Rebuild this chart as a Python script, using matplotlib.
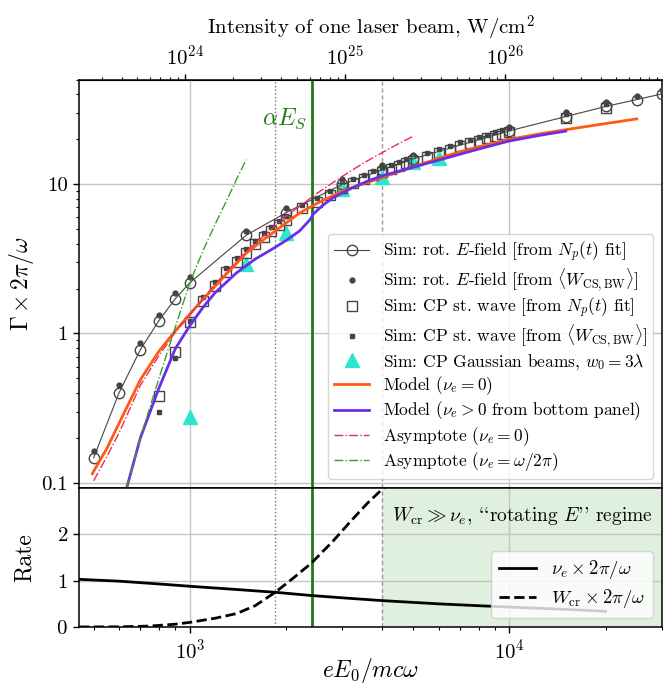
import numpy as np
import matplotlib
matplotlib.use("Agg")
import matplotlib.pyplot as plt
from matplotlib.ticker import NullFormatter

plt.rcParams['font.family'] = ['cmr10', 'DejaVu Serif']
plt.rcParams['mathtext.fontset'] = 'cm'
plt.rcParams['axes.formatter.use_mathtext'] = True

# --- data ---
# rotating E-field simulations
rot_a = [500, 600, 700, 800, 900, 1000, 1500, 2000, 3000, 4000, 5000,
         10000, 15000, 20000, 25000, 30000]
rot_fit = [0.147, 0.40, 0.78, 1.22, 1.71, 2.19, 4.55, 6.45, 10.0, 12.5, 14.8,
           22.8, 28.4, 33.2, 36.9, 40.3]
rot_w = [0.163, 0.45, 0.87, 1.34, 1.87, 2.38, 4.87, 6.95, 10.8, 13.4, 15.8,
         24.3, 30.3, 35.4, 39.3, 43.0]

# CP standing wave simulations
cp_a = [800, 900, 1000, 1100, 1200, 1300, 1400, 1500, 1600, 1700, 1800, 1900, 2000,
        2250, 2500, 2750, 3000, 3250, 3500, 3750, 4000, 4250, 4500, 4750, 5000,
        5500, 6000, 6500, 7000, 7500, 8000, 8500, 9000, 9500, 10000, 15000, 20000]
cp_fit = [0.38, 0.75, 1.20, 1.66, 2.09, 2.58, 3.02, 3.48, 3.95, 4.42, 4.88, 5.35, 5.80,
          6.9, 7.6, 8.5, 9.5, 10.2, 10.8, 11.5, 12.1, 12.7, 13.3, 13.9, 14.4,
          15.3, 16.1, 17.0, 18.0, 18.8, 19.5, 20.3, 21.0, 21.7, 22.3, 27.8, 32.6]
cp_w = [0.30, 0.69, 1.21, 1.76, 2.22, 2.74, 3.20, 3.69, 4.19, 4.69, 5.17, 5.67, 6.15,
        7.3, 8.05, 9.0, 10.1, 10.8, 11.45, 12.2, 12.8, 13.45, 14.1, 14.7, 15.3,
        16.2, 17.1, 18.0, 19.1, 19.9, 20.7, 21.5, 22.3, 23.0, 23.7, 29.6, 34.7]

# CP Gaussian beams
gauss_a = [1000, 1500, 2000, 3000, 4000, 5000, 6000]
gauss_g = [0.274, 2.93, 4.73, 9.3, 11.1, 14.1, 15.0]

# models
model0_a = [495, 550, 600, 700, 800, 900, 1000, 1100, 1200, 1300, 1500, 1700, 2000,
            2200, 2500, 3000, 3500, 4000, 5000, 6000, 7000, 8000, 10000, 12500,
            15000, 20000, 25000]
model0_g = [0.115, 0.17, 0.25, 0.49, 0.76, 1.04, 1.35, 1.70, 2.07, 2.5, 3.45, 4.25, 5.5,
            6.4, 7.45, 9.0, 10.1, 11.1, 13.1, 14.9, 16.5, 17.8, 20.0, 21.8,
            23.2, 25.5, 27.4]
model1_a = [634, 700, 800, 900, 1000, 1100, 1200, 1400, 1600, 1800, 2000, 2200, 2370,
            2440, 2600, 2800, 3200, 3600, 4000, 5000, 6000, 8000, 10000, 12500, 15000]
model1_g = [0.092, 0.20, 0.43, 0.79, 1.13, 1.5, 1.88, 2.55, 3.15, 3.65, 4.2, 4.85, 5.75,
            6.35, 7.2, 8.1, 9.4, 10.5, 11.4, 13.0, 14.5, 17.2, 19.5, 21.3, 22.7]

# asymptotes
asym0_a = [500, 550, 600, 700, 800, 900, 1000, 1200, 1500, 2000, 2500, 3000, 3500,
           4000, 4500, 5000]
asym0_g = [0.103, 0.15, 0.215, 0.45, 0.71, 1.02, 1.33, 2.15, 3.55, 6.1, 8.7, 11.3, 13.9,
           16.3, 18.7, 21.0]
asym1_a = [634, 700, 800, 900, 1000, 1100, 1200, 1300, 1400, 1500]
asym1_g = [0.092, 0.2, 0.5, 1.1, 2.2, 3.6, 5.4, 7.7, 10.8, 14.6]

# bottom panel rates
nu_a = [450, 600, 800, 1000, 1400, 1850, 2400, 3000, 4000, 6000, 8000, 10000, 15000, 20000]
nu_rate = [1.03, 0.99, 0.93, 0.88, 0.81, 0.75, 0.68, 0.63, 0.57, 0.50, 0.46, 0.43, 0.38, 0.34]
wcr_a = [450, 600, 750, 900, 1000, 1200, 1400, 1600, 1850, 2100, 2400, 2800, 3200, 3600, 4100]
wcr_rate = [0.0, 0.004, 0.02, 0.06, 0.1, 0.19, 0.29, 0.46, 0.75, 1.05, 1.38, 1.85, 2.3, 2.68, 3.05]

a_cross = 1845     # nu_e = W_cr
a_alphaES = 2406   # alpha * E_S
a_rot = 4000       # start of rotating-E regime

GREEN = '#1e7a14'
GREY = '#444444'


def a_to_I(a):
    return 1.07e18 * np.asarray(a, dtype=float) ** 2


def I_to_a(I):
    return np.sqrt(np.asarray(I, dtype=float) / 1.07e18)


fig, (ax, axb) = plt.subplots(2, 1, sharex=True, figsize=(6.7, 6.83), dpi=100,
                              gridspec_kw=dict(height_ratios=[2.94, 1], hspace=0))
fig.subplots_adjust(left=0.118, right=0.988, top=0.883, bottom=0.082)

# --- top panel ---
ax.plot(rot_a, rot_w, 'o', color=GREY, ms=3.5, ls='none', zorder=3)
ax.plot(rot_a, rot_fit, '-o', color=GREY, lw=0.8, mfc='none', mec=GREY, ms=7.5, mew=1.0,
        zorder=4, label=r'Sim: rot. $E$-field [from $N_p(t)$ fit]')
ax.plot([], [], 'o', color=GREY, ms=3.5, ls='none',
        label=r'Sim: rot. $E$-field [from $\langle W_{\rm CS,BW}\rangle$]')
ax.plot(cp_a, cp_fit, 's', mfc='none', mec=GREY, ms=6.5, mew=1.0, ls='none', zorder=4,
        label=r'Sim: CP st. wave [from $N_p(t)$ fit]')
ax.plot(cp_a, cp_w, 's', color=GREY, ms=3.5, ls='none', zorder=3,
        label=r'Sim: CP st. wave [from $\langle W_{\rm CS,BW}\rangle$]')
ax.plot(gauss_a, gauss_g, '^', color='#2ee6c9', ms=10, ls='none', zorder=3,
        label=r'Sim: CP Gaussian beams, $w_0=3\lambda$')
ax.plot(model0_a, model0_g, color='#ff5a14', lw=2, zorder=5, label=r'Model ($\nu_e=0$)')
ax.plot(model1_a, model1_g, color='#6a2ee8', lw=2, zorder=5,
        label=r'Model ($\nu_e>0$ from bottom panel)')
ax.plot(asym0_a, asym0_g, '-.', color='#f0285a', lw=1, zorder=5,
        label=r'Asymptote ($\nu_e=0$)')
ax.plot(asym1_a, asym1_g, '-.', color='#3a9f2a', lw=1, zorder=5,
        label=r'Asymptote ($\nu_e=\omega/2\pi$)')

for axx in (ax, axb):
    axx.axvline(a_cross, color='#777777', ls=':', lw=1, zorder=1)
    axx.axvline(a_rot, color='#999999', ls='--', lw=1, zorder=1, dashes=(3, 2))
    axx.axvline(a_alphaES, color=GREEN, lw=2, zorder=2)
    axx.grid(True, which='major', color='#c4c4c4', lw=1.0)
    axx.set_axisbelow(True)
    axx.tick_params(which='major', length=4.5, width=1, labelsize=15)
    axx.tick_params(which='minor', length=2.5, width=0.8)
    for s in axx.spines.values():
        s.set_linewidth(1.1)

ax.text(2330, 27.5, r'$\alpha E_S$', color=GREEN, fontsize=17, ha='right', va='center')

ax.set_xscale('log')
ax.set_yscale('log')
ax.set_xlim(450, 30000)
ax.set_ylim(0.092, 50)
ax.set_yticks([0.1, 1, 10])
ax.set_yticklabels(['0.1', '1', '10'])
ax.tick_params(axis='x', which='both', bottom=False, labelbottom=False)
ax.set_ylabel(r'$\Gamma\times 2\pi/\omega$', fontsize=17)

ax.legend(loc='lower right', fontsize=12.5, framealpha=0.8, handlelength=2.0,
          labelspacing=0.15, borderpad=0.35)

sec = ax.secondary_xaxis('top', functions=(a_to_I, I_to_a))
sec.set_xticks([1e24, 1e25, 1e26])
sec.set_xlabel(r'Intensity of one laser beam, W/cm$^2$', fontsize=15, labelpad=7)
sec.tick_params(which='major', length=4.5, width=1, labelsize=15)
sec.tick_params(which='minor', length=2.5, width=0.8)
sec.xaxis.set_minor_formatter(NullFormatter())

# --- bottom panel ---
axb.axvspan(a_rot, 30000, color='#2ca02c', alpha=0.15, lw=0, zorder=0)
axb.plot(nu_a, nu_rate, color='black', lw=2, label=r'$\nu_e\times 2\pi/\omega$')
axb.plot(wcr_a, wcr_rate, '--', color='black', lw=2, label=r'$W_{\rm cr}\times 2\pi/\omega$')
axb.text(4300, 2.4, r"$W_{\rm cr}\gg\nu_e$, ``rotating $E$'' regime", fontsize=14,
         ha='left', va='center')
axb.set_ylim(0, 3)
axb.set_yticks([0, 1, 2])
axb.set_ylabel('Rate', fontsize=17)
axb.set_xlabel(r'$eE_0/mc\omega$', fontsize=17, labelpad=-5)
axb.legend(loc='lower right', fontsize=13.5, framealpha=0.8, labelspacing=0.3)

fig.align_ylabels([ax, axb])
fig.savefig('out.png', dpi=100)
